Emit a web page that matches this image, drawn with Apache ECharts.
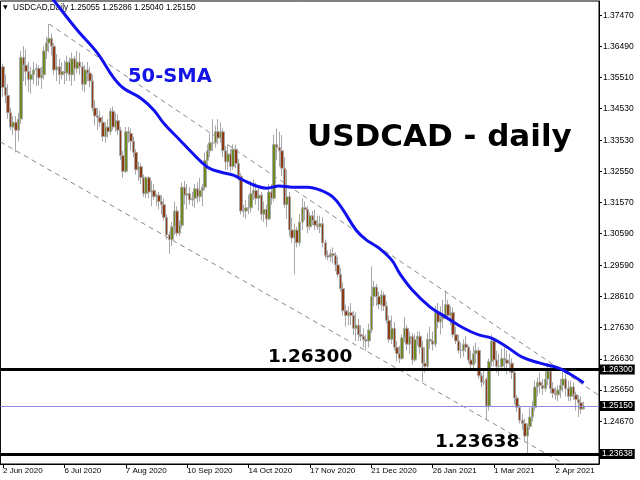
<!DOCTYPE html>
<html><head><meta charset="utf-8">
<script src="https://cdn.jsdelivr.net/npm/echarts@6/dist/echarts.min.js"></script>
<style>html,body{margin:0;padding:0;background:#fff}#c{width:640px;height:480px}</style>
</head><body><div id="c"></div>
<script>
// ---- data (open, close, low, high) ----
const ohlc = [
['-','-','-','-'],
[1.3585,1.3520,1.3490,1.3595],[1.3520,1.3495,1.3470,1.3560],[1.3495,1.3440,1.3420,1.3530],[1.3440,1.3395,1.3385,1.3455],
[1.3395,1.3410,1.3370,1.3430],[1.3410,1.3385,1.3315,1.3430],[1.3385,1.3420,1.3350,1.3440],[1.3420,1.3615,1.3405,1.3635],
[1.3615,1.3590,1.3540,1.3650],[1.3590,1.3570,1.3525,1.3640],[1.3570,1.3545,1.3505,1.3600],[1.3545,1.3560,1.3500,1.3585],
[1.3560,1.3575,1.3530,1.3600],[1.3575,1.3580,1.3525,1.3595],[1.3580,1.3550,1.3525,1.3590],[1.3550,1.3560,1.3515,1.3585],
[1.3560,1.3635,1.3545,1.3650],[1.3635,1.3660,1.3610,1.3680],[1.3660,1.3675,1.3630,1.3720],[1.3675,1.3650,1.3620,1.3690],
[1.3650,1.3575,1.3560,1.3660],
// Jul
[1.3575,1.3585,1.3540,1.3625],[1.3585,1.3560,1.3530,1.3610],[1.3560,1.3570,1.3545,1.3600],[1.3570,1.3565,1.3530,1.3605],
[1.3565,1.3600,1.3540,1.3620],[1.3600,1.3560,1.3540,1.3615],[1.3560,1.3610,1.3525,1.3630],[1.3610,1.3580,1.3540,1.3620],
[1.3580,1.3600,1.3565,1.3635],[1.3600,1.3585,1.3560,1.3630],[1.3585,1.3530,1.3510,1.3600],[1.3530,1.3575,1.3505,1.3590],
[1.3575,1.3565,1.3540,1.3600],[1.3565,1.3540,1.3520,1.3585],[1.3540,1.3455,1.3445,1.3560],[1.3455,1.3430,1.3400,1.3480],
[1.3430,1.3425,1.3385,1.3455],[1.3425,1.3410,1.3395,1.3445],[1.3410,1.3365,1.3350,1.3430],[1.3365,1.3395,1.3345,1.3410],
[1.3395,1.3380,1.3360,1.3420],[1.3380,1.3445,1.3370,1.3455],[1.3445,1.3395,1.3385,1.3460],
// Aug
[1.3395,1.3415,1.3380,1.3440],[1.3415,1.3385,1.3370,1.3435],[1.3385,1.3305,1.3290,1.3395],[1.3305,1.3255,1.3235,1.3320],
[1.3255,1.3380,1.3250,1.3395],[1.3380,1.3375,1.3345,1.3395],[1.3375,1.3350,1.3320,1.3390],[1.3350,1.3315,1.3300,1.3365],
[1.3315,1.3260,1.3245,1.3325],[1.3260,1.3270,1.3225,1.3285],[1.3270,1.3235,1.3215,1.3280],[1.3235,1.3185,1.3175,1.3245],
[1.3185,1.3235,1.3170,1.3240],[1.3235,1.3190,1.3170,1.3240],[1.3190,1.3195,1.3145,1.3225],[1.3195,1.3175,1.3165,1.3215],
[1.3175,1.3180,1.3145,1.3185],[1.3180,1.3160,1.3135,1.3190],[1.3160,1.3150,1.3120,1.3180],[1.3150,1.3110,1.3100,1.3170],
[1.3110,1.3055,1.3040,1.3120],
// Sep
[1.3055,1.3040,1.2995,1.3065],[1.3040,1.3080,1.3020,1.3095],[1.3080,1.3130,1.3055,1.3160],[1.3130,1.3060,1.3050,1.3145],
[1.3060,1.3085,1.3050,1.3100],[1.3085,1.3205,1.3075,1.3220],[1.3205,1.3180,1.3150,1.3225],[1.3180,1.3185,1.3135,1.3215],
[1.3185,1.3165,1.3150,1.3205],[1.3165,1.3170,1.3145,1.3190],[1.3170,1.3200,1.3140,1.3215],[1.3200,1.3175,1.3155,1.3220],
[1.3175,1.3195,1.3160,1.3235],[1.3195,1.3205,1.3145,1.3215],[1.3205,1.3290,1.3195,1.3315],[1.3290,1.3320,1.3275,1.3340],
[1.3320,1.3345,1.3300,1.3375],[1.3345,1.3345,1.3320,1.3420],[1.3345,1.3380,1.3330,1.3400],[1.3380,1.3360,1.3340,1.3420],
[1.3360,1.3380,1.3345,1.3410],[1.3380,1.3320,1.3300,1.3390],
// Oct
[1.3320,1.3285,1.3260,1.3335],[1.3285,1.3310,1.3260,1.3340],[1.3310,1.3270,1.3255,1.3325],[1.3270,1.3325,1.3260,1.3340],
[1.3325,1.3280,1.3265,1.3340],[1.3280,1.3240,1.3225,1.3295],[1.3240,1.3130,1.3120,1.3250],[1.3130,1.3130,1.3110,1.3150],
[1.3130,1.3140,1.3105,1.3165],[1.3140,1.3140,1.3120,1.3180],[1.3140,1.3185,1.3125,1.3225],[1.3185,1.3195,1.3165,1.3230],
[1.3195,1.3170,1.3150,1.3220],[1.3170,1.3180,1.3130,1.3210],[1.3180,1.3120,1.3100,1.3190],[1.3120,1.3135,1.3095,1.3160],
[1.3135,1.3105,1.3080,1.3150],[1.3105,1.3190,1.3100,1.3215],[1.3190,1.3170,1.3150,1.3215],[1.3170,1.3340,1.3160,1.3370],
[1.3340,1.3330,1.3290,1.3390],[1.3330,1.3320,1.3270,1.3380],
// Nov
[1.3320,1.3265,1.3240,1.3370],[1.3265,1.3150,1.3140,1.3300],[1.3150,1.3175,1.3105,1.3260],[1.3175,1.3070,1.3050,1.3190],
[1.3070,1.3045,1.3030,1.3110],[1.3045,1.3070,1.2930,1.3090],[1.3070,1.3030,1.3015,1.3080],[1.3030,1.3095,1.3020,1.3120],
[1.3095,1.3140,1.3070,1.3170],[1.3140,1.3135,1.3100,1.3160],[1.3135,1.3080,1.3060,1.3145],[1.3080,1.3115,1.3070,1.3125],
[1.3115,1.3100,1.3085,1.3130],[1.3100,1.3085,1.3070,1.3135],[1.3085,1.3080,1.3070,1.3115],[1.3080,1.3090,1.3060,1.3115],
[1.3090,1.3030,1.3015,1.3110],[1.3030,1.2990,1.2980,1.3040],[1.2990,1.2985,1.2975,1.3005],[1.2985,1.2995,1.2970,1.3010],
[1.2995,1.2990,1.2965,1.3015],
// Dec
[1.2990,1.2960,1.2940,1.3000],[1.2960,1.2930,1.2920,1.2985],[1.2930,1.2885,1.2875,1.2950],[1.2885,1.2815,1.2800,1.2905],
[1.2815,1.2800,1.2765,1.2835],[1.2800,1.2810,1.2770,1.2830],[1.2810,1.2800,1.2770,1.2840],[1.2800,1.2760,1.2740,1.2815],
[1.2760,1.2770,1.2720,1.2810],[1.2770,1.2740,1.2720,1.2790],[1.2740,1.2735,1.2720,1.2770],[1.2735,1.2725,1.2700,1.2760],
[1.2725,1.2720,1.2690,1.2740],[1.2720,1.2755,1.2700,1.2775],[1.2755,1.2860,1.2745,1.2955],[1.2860,1.2890,1.2830,1.2910],
[1.2890,1.2860,1.2830,1.2900],[1.2860,1.2835,1.2820,1.2875],[1.2835,1.2865,1.2815,1.2880],[1.2865,1.2830,1.2815,1.2875],
[1.2830,1.2785,1.2775,1.2845],[1.2785,1.2725,1.2715,1.2800],
// Jan
[1.2725,1.2760,1.2710,1.2800],[1.2760,1.2700,1.2690,1.2780],[1.2700,1.2680,1.2655,1.2720],[1.2680,1.2665,1.2650,1.2705],
[1.2665,1.2730,1.2660,1.2740],[1.2730,1.2760,1.2715,1.2795],[1.2760,1.2710,1.2690,1.2770],[1.2710,1.2735,1.2680,1.2750],
[1.2735,1.2660,1.2645,1.2745],[1.2660,1.2725,1.2655,1.2740],[1.2725,1.2735,1.2705,1.2750],[1.2735,1.2700,1.2680,1.2750],
[1.2700,1.2650,1.2590,1.2720],[1.2650,1.2640,1.2620,1.2700],[1.2640,1.2725,1.2630,1.2745],[1.2725,1.2720,1.2695,1.2765],
[1.2720,1.2710,1.2690,1.2750],[1.2710,1.2810,1.2700,1.2830],[1.2810,1.2780,1.2760,1.2840],[1.2780,1.2790,1.2740,1.2830],
// Feb
[1.2790,1.2800,1.2760,1.2850],[1.2800,1.2835,1.2790,1.2880],[1.2835,1.2800,1.2785,1.2850],[1.2800,1.2810,1.2770,1.2830],
[1.2810,1.2740,1.2730,1.2825],[1.2740,1.2720,1.2710,1.2765],[1.2720,1.2690,1.2680,1.2740],[1.2690,1.2690,1.2665,1.2715],
[1.2690,1.2710,1.2670,1.2725],[1.2710,1.2700,1.2685,1.2735],[1.2700,1.2660,1.2650,1.2705],[1.2660,1.2645,1.2625,1.2690],
[1.2645,1.2680,1.2630,1.2705],[1.2680,1.2690,1.2650,1.2715],[1.2690,1.2610,1.2600,1.2700],[1.2610,1.2590,1.2575,1.2620],
[1.2590,1.2590,1.2580,1.2630],[1.2600,1.2515,1.2470,1.2605],[1.2515,1.2655,1.2500,1.2665],[1.2655,1.2720,1.2640,1.2740],
// Mar
[1.2720,1.2660,1.2640,1.2730],[1.2660,1.2640,1.2620,1.2690],[1.2640,1.2640,1.2610,1.2680],[1.2640,1.2665,1.2630,1.2695],
[1.2665,1.2660,1.2625,1.2700],[1.2660,1.2650,1.2615,1.2690],[1.2650,1.2650,1.2620,1.2680],[1.2650,1.2620,1.2600,1.2665],
[1.2620,1.2540,1.2520,1.2630],[1.2540,1.2510,1.2495,1.2550],[1.2510,1.2470,1.2460,1.2520],[1.2470,1.2460,1.2440,1.2490],
[1.2460,1.2420,1.2405,1.2475],[1.2420,1.2450,1.2365,1.2460],[1.2450,1.2480,1.2440,1.2510],[1.2480,1.2510,1.2465,1.2530],
[1.2510,1.2575,1.2500,1.2595],[1.2575,1.2590,1.2545,1.2605],[1.2590,1.2580,1.2555,1.2620],[1.2580,1.2570,1.2550,1.2600],
[1.2570,1.2600,1.2560,1.2625],[1.2600,1.2625,1.2580,1.2650],[1.2625,1.2570,1.2555,1.2640],
// Apr
[1.2570,1.2555,1.2540,1.2590],[1.2555,1.2550,1.2535,1.2575],[1.2550,1.2565,1.2530,1.2580],[1.2565,1.2580,1.2540,1.2600],
[1.2580,1.2600,1.2560,1.2635],[1.2600,1.2570,1.2545,1.2615],[1.2570,1.2545,1.2530,1.2595],[1.2545,1.2575,1.2530,1.2595],
[1.2575,1.2550,1.2535,1.2590],[1.2550,1.2535,1.2500,1.2560],[1.2535,1.2525,1.2480,1.2550],[1.2525,1.2505,1.2490,1.2545],
[1.25055,1.25150,1.25040,1.25286]
];

// 50-SMA: [bar index, value]
const sma50 = [
[16,1.3845],[21,1.3793],[30,1.3701],[38,1.3627],[44,1.3553],[48,1.3518],[55,1.3485],[60,1.3448],[64,1.3405],
[70,1.3355],[75,1.3313],[81,1.3268],[86,1.3253],[91,1.3243],[95,1.3227],[99,1.3212],[104,1.3202],[109,1.3209],
[114,1.3205],[120,1.3205],[125,1.3196],[130,1.3174],[134,1.3133],[139,1.3070],[143,1.3039],[148,1.3013],
[153,1.2975],[156,1.2934],[161,1.2881],[168,1.2827],[174,1.2796],[181,1.2761],[187,1.2739],[192,1.2729],
[198,1.2701],[204,1.2669],[211,1.2650],[218,1.2635],[222,1.2619],[228,1.2588]
];

// channel trend lines: [bar index, value]
const upperChannel = [[19,1.3720],[234,1.2548]];
const lowerChannel = [[0,1.3348],[234,1.2269]];

// horizontal levels
const resistance = 1.26300;
const support = 1.23638;
const bidPrice = 1.25150;

const yTickValues = [1.37470,1.36490,1.35510,1.34530,1.33530,1.32550,1.31570,1.30590,1.29590,1.28610,1.27630,1.26630,1.25650,1.24670];
const xTickLabels = ['2 Jun 2020','6 Jul 2020','7 Aug 2020','10 Sep 2020','14 Oct 2020','17 Nov 2020','21 Dec 2020','26 Jan 2021','1 Mar 2021','2 Apr 2021'];

// trading-day categories (weekdays, broker closed 25 Dec and 1 Jan), plus empty space on the right
const MONTHS = ['Jan','Feb','Mar','Apr','May','Jun','Jul','Aug','Sep','Oct','Nov','Dec'];
const categories = [];
(function(){
  let t = Date.UTC(2020,5,1); const end = Date.UTC(2021,3,19);
  const closed = ['2020-12-25','2021-01-01'];
  while (t <= end) {
    const d = new Date(t); const wd = d.getUTCDay(); const iso = d.toISOString().slice(0,10);
    if (wd !== 0 && wd !== 6 && closed.indexOf(iso) < 0) categories.push(d.getUTCDate()+' '+MONTHS[d.getUTCMonth()]+' '+d.getUTCFullYear());
    t += 86400000;
  }
  for (let i = 0; i < 6; i++) categories.push(' '.repeat(i+1));
})();

const chart = echarts.init(document.getElementById('c'), null, {renderer:'canvas'});
const showTick = (i) => xTickLabels.indexOf(categories[i]) >= 0;
const boxLabel = (txt) => ({show:true, position:'end', distance:1, formatter:txt, color:'#fff', backgroundColor:'#000',
  padding:[1,2,0,2], fontSize:8.5, fontFamily:'Liberation Sans'});
const bigFont = (px) => 'bold ' + px + 'px "DejaVu Sans"';

chart.setOption({
  animation:false,
  backgroundColor:'#fff',
  grid:{left:0, right:41, top:1, bottom:16, show:true, borderColor:'#000', borderWidth:1, backgroundColor:'transparent'},
  xAxis:{type:'category', data:categories, boundaryGap:false,
    axisLine:{show:true, lineStyle:{color:'#000'}},
    axisTick:{show:true, interval:showTick, length:4, lineStyle:{color:'#000'}},
    axisLabel:{interval:showTick, align:'left', margin:3, fontSize:8, fontFamily:'Liberation Sans', color:'#000'},
    splitLine:{show:false}},
  yAxis:{type:'value', position:'right', min:1.23319, max:1.37925, scale:true,
    axisLine:{show:true, lineStyle:{color:'#000'}},
    axisTick:{show:true, length:3, customValues:yTickValues, lineStyle:{color:'#000'}},
    axisLabel:{customValues:yTickValues, formatter:(v)=>Number(v).toFixed(5), margin:4, fontSize:8.5, fontFamily:'Liberation Sans', color:'#000'},
    splitLine:{show:false}},
  graphic:[
    {type:'text', z:0, x:3, y:7.5, style:{text:'\u25BC', font:'6px "DejaVu Sans"', fill:'#000', verticalAlign:'middle'}},
    {type:'text', z:0, x:13, y:7.5, style:{text:'USDCAD,Daily 1.25055 1.25286 1.25040 1.25150', font:'8.2px "Liberation Sans"', fill:'#000', verticalAlign:'middle'}},
    {type:'text', z:100, x:128, y:76.5, style:{text:'50-SMA', font:bigFont(19.5), fill:'#1414e6', verticalAlign:'middle'}},
    {type:'text', z:100, x:307, y:137.5, style:{text:'USDCAD - daily', font:bigFont(31), fill:'#000', verticalAlign:'middle'}},
    {type:'text', z:100, x:268, y:357.5, style:{text:'1.26300', font:bigFont(18.5), fill:'#000', verticalAlign:'middle'}},
    {type:'text', z:100, x:435, y:442, style:{text:'1.23638', font:bigFont(18.5), fill:'#000', verticalAlign:'middle'}}
  ],
  series:[
    {type:'line', data:upperChannel, symbol:'none', silent:true, z:3,
      lineStyle:{color:'#8a8a8a', width:1, type:[5,4]}},
    {type:'line', data:lowerChannel, symbol:'none', silent:true, z:3,
      lineStyle:{color:'#8a8a8a', width:1, type:[5,4]}},
    {type:'candlestick', data:ohlc, barWidth:3, z:4,
      itemStyle:{color:'#6f8a1f', color0:'#8e3a12', borderColor:'#a8a8a8', borderColor0:'#a8a8a8', borderWidth:1},
      markLine:{silent:true, symbol:'none', animation:false, precision:5,
        data:[
          {yAxis:resistance, lineStyle:{color:'#000', width:3, type:'solid'}, label:boxLabel('1.26300')},
          {yAxis:bidPrice, lineStyle:{color:'#8c8cdc', width:1, type:'solid'}, label:boxLabel('1.25150')},
          {yAxis:support, lineStyle:{color:'#000', width:3, type:'solid'}, label:boxLabel('1.23638')}
        ]}},
    {type:'line', data:sma50, symbol:'none', smooth:0.4, silent:true, z:5,
      lineStyle:{color:'#1010f0', width:3}}
  ]
});
</script></body></html>
